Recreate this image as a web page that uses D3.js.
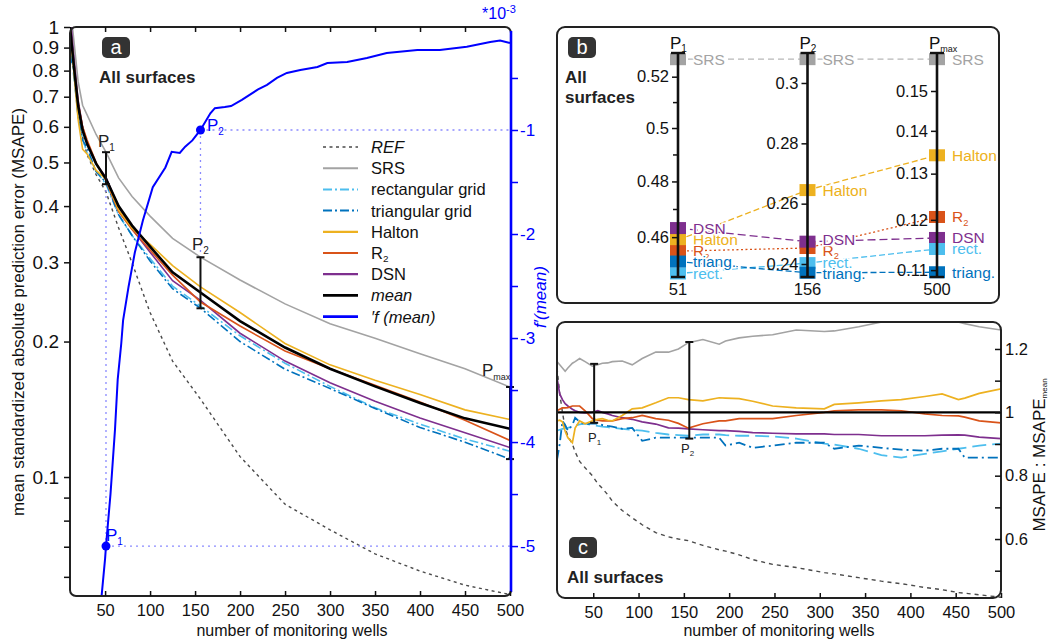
<!DOCTYPE html>
<html lang="en">
<head>
<meta charset="utf-8">
<title>MSAPE vs number of monitoring wells</title>
<script src="https://cdnjs.cloudflare.com/ajax/libs/d3/7.8.5/d3.min.js"></script>
<style>
  body { margin: 0; background: #fff; }
  svg text { font-family: "Liberation Sans", Arial, Helvetica, sans-serif; }
</style>
</head>
<body>
<svg id="chart" width="1050" height="642"></svg>
<script>
// ---- panel a : MSAPE (log axis) ----
const wells = [11, 15, 20, 25, 30, 40, 51, 65, 80, 100, 125, 156, 200, 250, 300, 350, 400, 450, 500];
const refA    = [1.0, 0.86, 0.66, 0.57, 0.52, 0.47, 0.43, 0.358, 0.299, 0.232, 0.181, 0.149, 0.111, 0.087, 0.0763, 0.0675, 0.0618, 0.0575, 0.0548];
const srsA    = [1.12, 0.946, 0.757, 0.67, 0.638, 0.577, 0.527, 0.462, 0.42, 0.38, 0.339, 0.308, 0.274, 0.2425, 0.219, 0.2035, 0.188, 0.174, 0.1585];
const rectA   = [0.942, 0.784, 0.6365, 0.565, 0.525, 0.4786, 0.4475, 0.382, 0.344, 0.306, 0.2656, 0.2397, 0.206, 0.179, 0.159, 0.1425, 0.131, 0.1215, 0.1141];
const triangA = [0.87, 0.805, 0.633, 0.56, 0.539, 0.477, 0.4515, 0.383, 0.344, 0.302, 0.262, 0.2372, 0.2, 0.1736, 0.1573, 0.142, 0.1288, 0.1195, 0.1096];
const haltonA = [0.97, 0.805, 0.623, 0.535, 0.5225, 0.48, 0.459, 0.392, 0.357, 0.329, 0.295, 0.2646, 0.232, 0.198, 0.1775, 0.164, 0.1525, 0.141, 0.1342];
const r2A     = [1.005, 0.838, 0.679, 0.6, 0.561, 0.4995, 0.455, 0.389, 0.355, 0.3195, 0.281, 0.2448, 0.2165, 0.1905, 0.174, 0.16, 0.1467, 0.1337, 0.1206];
const dsnA    = [1.08, 0.8715, 0.688, 0.6, 0.553, 0.497, 0.463, 0.398, 0.3555, 0.316, 0.273, 0.247, 0.2087, 0.181, 0.162, 0.1474, 0.1352, 0.1254, 0.1163];
const meanA   = [1.0, 0.83, 0.67, 0.59, 0.55, 0.497, 0.46, 0.40, 0.362, 0.325, 0.285, 0.257, 0.222, 0.194, 0.174, 0.159, 0.146, 0.135, 0.128];

// f'(mean), units of 1e-3
const derivX = [46, 50, 51, 56, 61, 64, 68, 70, 76, 83, 92, 103, 117, 124, 133, 139, 147, 156, 167, 172, 183, 190, 202, 220, 230, 241, 252, 267, 286, 297, 319, 341, 363, 397, 422, 452, 478, 489, 500];
const derivV = [-5.49, -5.12, -5.0, -4.5, -3.88, -3.4, -3.05, -2.83, -2.51, -2.18, -1.87, -1.55, -1.36, -1.21, -1.22, -1.16, -1.1, -1.0, -0.84, -0.79, -0.78, -0.77, -0.71, -0.61, -0.567, -0.5, -0.452, -0.423, -0.394, -0.356, -0.346, -0.308, -0.26, -0.23, -0.23, -0.2, -0.154, -0.14, -0.163];

const aTicksY = [0.1, 0.2, 0.3, 0.4, 0.5, 0.6, 0.7, 0.8, 0.9, 1];
const aMinorY = [0.06, 0.07, 0.08, 0.09];
const xTicks = [50, 100, 150, 200, 250, 300, 350, 400, 450, 500];
const dTicks = [-5, -4, -3, -2, -1];
const dMinor = [-4.5, -3.5, -2.5, -1.5, -0.5];

// ---- panel b : values at P1, P2, Pmax ----
const bCols = ["P1", "P2", "Pmax"];
const bWells = [51, 156, 500];
const bNames = ["SRS", "Halton", "R2", "DSN", "rect.", "triang."];
const bP1   = [0.527, 0.459, 0.4551, 0.4632, 0.4474, 0.4515];
const bP2   = [0.3079, 0.2645, 0.2453, 0.2474, 0.2403, 0.2371];
const bPmax = [0.1585, 0.1342, 0.1206, 0.1163, 0.1141, 0.1096];
const bTicks = [[0.46, 0.48, 0.5, 0.52], [0.24, 0.26, 0.28, 0.3], [0.11, 0.12, 0.13, 0.14, 0.15]];
const bMinor = [[0.47, 0.49, 0.51], [], []];

// ---- panel c : MSAPE / MSAPE_mean ----
const cx = [10, 13, 16, 19, 22, 27, 30, 35, 41, 49, 55, 60, 66, 71, 82, 93, 104, 119, 133, 144, 155, 171, 189, 196, 211, 226, 248, 274, 305, 316, 343, 368, 390, 416, 435, 453, 460, 476, 500];
const refC    = [1.14, 1.06, 1.0, 0.951, 0.925, 0.9, 0.875, 0.845, 0.825, 0.8, 0.775, 0.76, 0.74, 0.72, 0.69, 0.667, 0.645, 0.62, 0.607, 0.6, 0.595, 0.58, 0.566, 0.562, 0.55, 0.535, 0.52, 0.51, 0.494, 0.49, 0.478, 0.467, 0.459, 0.447, 0.44, 0.431, 0.429, 0.424, 0.416];
const srsC    = [1.16, 1.15, 1.14, 1.13, 1.14, 1.155, 1.16, 1.17, 1.16, 1.146, 1.15, 1.155, 1.156, 1.16, 1.162, 1.15, 1.17, 1.19, 1.19, 1.2, 1.22, 1.23, 1.215, 1.225, 1.235, 1.24, 1.245, 1.26, 1.255, 1.257, 1.27, 1.285, 1.29, 1.29, 1.29, 1.285, 1.28, 1.27, 1.26];
const haltonC = [0.973, 0.975, 0.97, 0.94, 0.92, 0.904, 0.95, 0.973, 0.964, 0.973, 0.978, 0.98, 0.975, 0.973, 0.99, 1.011, 1.014, 1.03, 1.046, 1.046, 1.04, 1.036, 1.046, 1.045, 1.043, 1.035, 1.02, 1.014, 1.011, 1.025, 1.03, 1.036, 1.04, 1.05, 1.058, 1.04, 1.045, 1.06, 1.074];
const r2C     = [1.005, 1.01, 1.014, 1.014, 1.015, 1.02, 1.02, 1.02, 1.005, 0.98, 0.975, 0.973, 0.973, 0.973, 0.98, 0.983, 0.99, 0.98, 0.975, 0.965, 0.95, 0.964, 0.973, 0.973, 0.98, 0.98, 0.98, 0.99, 1.0, 1.005, 1.008, 1.008, 1.005, 0.995, 0.99, 0.989, 0.985, 0.973, 0.967];
const dsnC    = [1.109, 1.058, 1.04, 1.027, 1.02, 1.01, 1.005, 1.0, 0.998, 1.0, 1.005, 1.0, 0.995, 0.99, 0.983, 0.978, 0.97, 0.963, 0.951, 0.95, 0.948, 0.945, 0.942, 0.942, 0.94, 0.936, 0.934, 0.932, 0.932, 0.93, 0.93, 0.926, 0.926, 0.926, 0.928, 0.929, 0.928, 0.922, 0.917];
const rectC   = [0.942, 0.945, 0.948, 0.95, 0.951, 0.955, 0.958, 0.962, 0.964, 0.96, 0.957, 0.955, 0.953, 0.951, 0.948, 0.945, 0.942, 0.935, 0.93, 0.928, 0.926, 0.93, 0.93, 0.928, 0.926, 0.926, 0.924, 0.917, 0.901, 0.898, 0.885, 0.865, 0.857, 0.869, 0.877, 0.885, 0.888, 0.895, 0.901];
const triangC = [0.85, 0.9, 0.973, 0.96, 0.942, 0.96, 0.983, 0.97, 0.962, 0.965, 0.964, 0.96, 0.957, 0.955, 0.948, 0.951, 0.91, 0.92, 0.92, 0.92, 0.92, 0.92, 0.92, 0.895, 0.904, 0.888, 0.895, 0.904, 0.904, 0.885, 0.895, 0.888, 0.882, 0.879, 0.885, 0.885, 0.857, 0.857, 0.857];
const barsC = [[51, 1.153, 0.967], [156, 1.222, 0.917]];
const cTicksY = [0.6, 0.8, 1, 1.2];
const cMinorY = [0.5, 0.7, 0.9, 1.1];

const col = {
  REF: "#4a4a4a", SRS: "#a3a3a3", rect: "#4dbeee", triang: "#0072bd",
  Halton: "#edb120", R2: "#d95319", DSN: "#7e2f8e", mean: "#000", deriv: "#0000ff"
};
const FONT = '"Liberation Sans", Arial, Helvetica, sans-serif';

const svg = d3.select("#chart");

function styleAxis(g, size, color) {
  g.select(".domain").remove();
  g.attr("font-family", FONT);
  g.selectAll(".tick line").attr("stroke", color).attr("stroke-width", 1.5);
  g.selectAll(".tick text").attr("fill", color).attr("font-size", size);
}

function subText(t, main, sub, subSize, dy) {
  t.append("tspan").text(main);
  t.append("tspan").attr("font-size", subSize).attr("dy", dy).text(sub);
  return t;
}

function nameText(t, name) {
  if (name === "R2") return subText(t, "R", "2", "60%", "0.35em");
  return t.text(name);
}

function badge(x, y, letter) {
  svg.append("rect").attr("x", x).attr("y", y).attr("width", 28).attr("height", 21)
    .attr("rx", 5).attr("fill", "#333");
  svg.append("text").attr("x", x + 14).attr("y", y + 17).attr("text-anchor", "middle")
    .attr("fill", "#fff").attr("font-size", 20).text(letter);
}

/* ================= panel a ================= */
const xA = d3.scaleLinear().domain([11, 500]).range([70, 510]);
const yA = d3.scaleLog().domain([0.0544, 1]).range([596, 27]);
const yD = d3.scaleLinear().domain([-5.48, -0.01]).range([596, 27]);

svg.append("clipPath").attr("id", "clipA").append("rect")
  .attr("x", 70).attr("y", 27).attr("width", 441).attr("height", 569);

const gA = svg.append("g");
const plotA = gA.append("g").attr("clip-path", "url(#clipA)");

const seriesA = [
  { name: "REF", v: refA, c: col.REF, w: 1.4, dash: "3,3.5" },
  { name: "SRS", v: srsA, c: col.SRS, w: 1.6 },
  { name: "rect", v: rectA, c: col.rect, w: 1.6, dash: "9,3,2,3" },
  { name: "triang", v: triangA, c: col.triang, w: 1.6, dash: "9,3,2,3" },
  { name: "DSN", v: dsnA, c: col.DSN, w: 1.6 },
  { name: "R2", v: r2A, c: col.R2, w: 1.6 },
  { name: "Halton", v: haltonA, c: col.Halton, w: 1.6 },
  { name: "mean", v: meanA, c: col.mean, w: 2.6 }
];
const lineA = d3.line().x((d, i) => xA(wells[i])).y(d => yA(d));
seriesA.forEach(s => {
  plotA.append("path").attr("d", lineA(s.v)).attr("fill", "none")
    .attr("stroke", s.c).attr("stroke-width", s.w)
    .attr("stroke-dasharray", s.dash || null);
});

// guides for P1 / P2 on f'(mean)
const guide = "#8a8aff";
const bVals = [bP1, bP2, bPmax];
[0, 1].forEach(k => {
  const n = bWells[k];
  const dv = derivV[derivX.indexOf(n)];
  const px = xA(n), py = yD(dv);
  const ySpan = k === 0 ? yA(d3.min(bVals[k])) + 3 : yA(d3.max(bVals[k]));
  plotA.append("line").attr("x1", px).attr("x2", px).attr("y1", py).attr("y2", ySpan)
    .attr("stroke", guide).attr("stroke-width", 1.3).attr("stroke-dasharray", "2,4");
  plotA.append("line").attr("x1", px).attr("x2", 511).attr("y1", py).attr("y2", py)
    .attr("stroke", guide).attr("stroke-width", 1.3).attr("stroke-dasharray", "2,4");
});

// P bars across methods
bWells.forEach((n, k) => {
  const px = xA(n), y1 = yA(d3.max(bVals[k])), y2 = yA(d3.min(bVals[k]));
  gA.append("line").attr("x1", px).attr("x2", px).attr("y1", y1).attr("y2", y2)
    .attr("stroke", "#111").attr("stroke-width", 2);
  [y1, y2].forEach(yy => gA.append("line").attr("x1", px - 4).attr("x2", px + 4)
    .attr("y1", yy).attr("y2", yy).attr("stroke", "#111").attr("stroke-width", 2));
});

// f'(mean)
const lineD = d3.line().x((d, i) => xA(derivX[i])).y(d => yD(d));
plotA.append("path").attr("d", lineD(derivV)).attr("fill", "none")
  .attr("stroke", col.deriv).attr("stroke-width", 2);
[0, 1].forEach(k => {
  const n = bWells[k];
  plotA.append("circle").attr("cx", xA(n)).attr("cy", yD(derivV[derivX.indexOf(n)]))
    .attr("r", 4.5).attr("fill", col.deriv);
});

// labels on the curves
subText(gA.append("text").attr("x", 98).attr("y", 147).attr("font-size", 17).attr("fill", "#222"), "P", "1", 10, "0.35em");
subText(gA.append("text").attr("x", 192).attr("y", 250).attr("font-size", 17).attr("fill", "#222"), "P", "2", 10, "0.35em");
subText(gA.append("text").attr("x", 482).attr("y", 376).attr("font-size", 17).attr("fill", "#222"), "P", "max", 9, "0.4em");
subText(gA.append("text").attr("x", 106).attr("y", 541).attr("font-size", 17).attr("fill", col.deriv), "P", "1", 10, "0.35em");
subText(gA.append("text").attr("x", 207).attr("y", 131).attr("font-size", 17).attr("fill", col.deriv), "P", "2", 10, "0.35em");

// frame
gA.append("rect").attr("x", 70).attr("y", 27).attr("width", 441).attr("height", 569)
  .attr("rx", 6).attr("fill", "none").attr("stroke", "#222").attr("stroke-width", 2);
gA.append("line").attr("x1", 511).attr("x2", 511).attr("y1", 31).attr("y2", 592)
  .attr("stroke", col.deriv).attr("stroke-width", 2.6);

// axes
gA.append("g").attr("transform", "translate(70,0)")
  .call(d3.axisLeft(yA).tickValues(aTicksY).tickFormat(d => String(d)).tickSize(6).tickPadding(5))
  .call(g => styleAxis(g, 19, "#111"));
gA.append("g").attr("transform", "translate(70,0)")
  .call(d3.axisLeft(yA).tickValues(aMinorY).tickFormat("").tickSize(6))
  .call(g => styleAxis(g, 19, "#111"));
gA.append("g").attr("transform", "translate(0,596)")
  .call(d3.axisBottom(xA).tickValues(xTicks).tickSize(-5).tickPadding(8))
  .call(g => styleAxis(g, 16.5, "#111"));
gA.append("g").attr("transform", "translate(0,27)")
  .call(d3.axisTop(xA).tickValues(xTicks.slice(0, -1)).tickFormat("").tickSize(-5))
  .call(g => styleAxis(g, 16, "#111"));
gA.append("g").attr("transform", "translate(511,0)")
  .call(d3.axisRight(yD).tickValues(dTicks).tickFormat(d => String(d)).tickSize(7).tickPadding(2))
  .call(g => styleAxis(g, 17, col.deriv));
gA.append("g").attr("transform", "translate(511,0)")
  .call(d3.axisRight(yD).tickValues(dMinor).tickFormat("").tickSize(7))
  .call(g => styleAxis(g, 17, col.deriv));

const t10 = gA.append("text").attr("x", 482).attr("y", 19).attr("font-size", 16).attr("fill", col.deriv);
t10.append("tspan").text("*10");
t10.append("tspan").attr("dy", -6).attr("font-size", 11).text("-3");

gA.append("text").attr("transform", "translate(546,297) rotate(-90)").attr("text-anchor", "middle")
  .attr("font-size", 17).attr("font-style", "italic").attr("fill", col.deriv).text("f\u2032(mean)");
gA.append("text").attr("transform", "translate(24,312) rotate(-90)").attr("text-anchor", "middle")
  .attr("font-size", 17).attr("fill", "#111").text("mean standardized absolute prediction error (MSAPE)");
gA.append("text").attr("x", 292).attr("y", 636).attr("text-anchor", "middle")
  .attr("font-size", 16).attr("fill", "#111").text("number of monitoring wells");

badge(102, 37, "a");
gA.append("text").attr("x", 99).attr("y", 83).attr("font-size", 17).attr("font-weight", "bold")
  .attr("fill", "#222").text("All surfaces");

// legend
const legendItems = [
  { name: "REF", c: col.REF, w: 1.4, dash: "3,3.5", italic: true },
  { name: "SRS", c: col.SRS, w: 2 },
  { name: "rectangular grid", c: col.rect, w: 2, dash: "9,3,2,3" },
  { name: "triangular grid", c: col.triang, w: 2, dash: "9,3,2,3" },
  { name: "Halton", c: col.Halton, w: 2.2 },
  { name: "R2", c: col.R2, w: 2.2 },
  { name: "DSN", c: col.DSN, w: 2.2 },
  { name: "mean", c: col.mean, w: 2.8, italic: true },
  { name: "\u2032f (mean)", c: col.deriv, w: 2.8, italic: true }
];
const gLeg = gA.append("g");
legendItems.forEach((d, i) => {
  const y = 147 + i * 21.2;
  gLeg.append("line").attr("x1", 323).attr("x2", 358).attr("y1", y).attr("y2", y)
    .attr("stroke", d.c).attr("stroke-width", d.w).attr("stroke-dasharray", d.dash || null);
  nameText(gLeg.append("text").attr("x", 371).attr("y", y + 6).attr("font-size", 16.5)
    .attr("fill", "#111").attr("font-style", d.italic ? "italic" : null), d.name);
});

/* ================= panel b ================= */
const gB = svg.append("g");
gB.append("rect").attr("x", 557).attr("y", 27).attr("width", 442).attr("height", 276)
  .attr("rx", 8).attr("fill", "none").attr("stroke", "#222").attr("stroke-width", 2);

const xB = d3.scalePoint().domain(bCols).range([678, 937]);
const bScales = [
  d3.scaleLog().domain([0.4462, 0.5295]).range([277, 53]),
  d3.scaleLinear().domain([0.23569, 0.30994]).range([277, 53]),
  d3.scaleLog().domain([0.1087, 0.1602]).range([277, 53])
];
const bStyle = {
  "SRS":     { c: "#a3a3a3", lc: "#b8b8b8", dash: "6,4" },
  "Halton":  { c: col.Halton, lc: col.Halton, dash: "6,3" },
  "R2":      { c: col.R2, lc: col.R2, dash: "2,2.5" },
  "DSN":     { c: col.DSN, lc: col.DSN, dash: "8,4" },
  "rect.":   { c: col.rect, lc: col.rect, dash: "6,3" },
  "triang.": { c: col.triang, lc: col.triang, dash: "6,3" }
};

// connecting dashed lines
bNames.forEach((name, j) => {
  for (let k = 0; k < 2; k++) {
    gB.append("line")
      .attr("x1", xB(bCols[k])).attr("y1", bScales[k](bVals[k][j]))
      .attr("x2", xB(bCols[k + 1])).attr("y2", bScales[k + 1](bVals[k + 1][j]))
      .attr("stroke", bStyle[name].lc).attr("stroke-width", 1.3)
      .attr("stroke-dasharray", bStyle[name].dash);
  }
});

function spread(ys, gap) {
  const idx = ys.map((y, i) => i).sort((a, b) => ys[a] - ys[b]);
  const out = ys.slice();
  for (let it = 0; it < 30; it++) {
    for (let j = 1; j < idx.length; j++) {
      const a = idx[j - 1], b = idx[j], d = out[b] - out[a];
      if (d < gap) { const s = (gap - d) / 2; out[a] -= s; out[b] += s; }
    }
  }
  return out;
}

bCols.forEach((c, k) => {
  const x = xB(c), sc = bScales[k];
  const g = gB.append("g");
  // squares
  const ys = bNames.map((n, j) => sc(bVals[k][j]));
  bNames.forEach((n, j) => {
    g.append("rect").attr("x", x - 8).attr("y", ys[j] - 6).attr("width", 16).attr("height", 12)
      .attr("fill", bStyle[n].c);
  });
  // axis
  g.append("g").attr("transform", `translate(${x},0)`)
    .call(d3.axisLeft(sc).tickValues(bTicks[k]).tickFormat(d => String(d)).tickSize(6).tickPadding(3))
    .call(a => styleAxis(a, 16.5, "#111"));
  if (bMinor[k].length) {
    g.append("g").attr("transform", `translate(${x},0)`)
      .call(d3.axisLeft(sc).tickValues(bMinor[k]).tickFormat("").tickSize(5))
      .call(a => styleAxis(a, 16, "#111"));
  }
  g.append("line").attr("x1", x).attr("x2", x).attr("y1", 53).attr("y2", 277)
    .attr("stroke", "#111").attr("stroke-width", 2.6);
  [53, 277].forEach(yy => g.append("line").attr("x1", x - 7).attr("x2", x + 7)
    .attr("y1", yy).attr("y2", yy).attr("stroke", "#111").attr("stroke-width", 2.4));
  // labels
  const ly = spread(ys, 11);
  bNames.forEach((n, j) => {
    nameText(g.append("text").attr("x", x + 15).attr("y", ly[j] + 5.5).attr("font-size", 15.5)
      .attr("fill", bStyle[n].c).attr("stroke", "#fff").attr("stroke-width", 3)
      .attr("paint-order", "stroke"), n);
  });
  // headers
  const sub = c.slice(1);
  subText(g.append("text").attr("x", x - 8).attr("y", 49).attr("font-size", 17).attr("fill", "#111"),
    "P", sub, sub.length > 1 ? 9 : 10, "0.3em");
  g.append("text").attr("x", x).attr("y", 295).attr("text-anchor", "middle")
    .attr("font-size", 16.5).attr("fill", "#111").text(bWells[k]);
});

badge(568, 37, "b");
gB.append("text").attr("x", 565).attr("y", 83).attr("font-size", 17).attr("font-weight", "bold")
  .attr("fill", "#222").text("All");
gB.append("text").attr("x", 565).attr("y", 103).attr("font-size", 17).attr("font-weight", "bold")
  .attr("fill", "#222").text("surfaces");

/* ================= panel c ================= */
const xC = d3.scaleLinear().domain([10, 500]).range([557, 1001]);
const yC = d3.scaleLinear().domain([0.417, 1.282]).range([597, 323]);
const gC = svg.append("g");
svg.append("clipPath").attr("id", "clipC").append("rect")
  .attr("x", 557).attr("y", 323).attr("width", 444).attr("height", 275);
const plotC = gC.append("g").attr("clip-path", "url(#clipC)");

const seriesC = [
  { v: refC, c: col.REF, w: 1.4, dash: "4,4" },
  { v: srsC, c: col.SRS, w: 1.6 },
  { v: rectC, c: col.rect, w: 1.8, dash: "14,6" },
  { v: triangC, c: col.triang, w: 1.8, dash: "10,4,2,4" },
  { v: dsnC, c: col.DSN, w: 1.7 },
  { v: r2C, c: col.R2, w: 1.7 },
  { v: haltonC, c: col.Halton, w: 1.7 }
];
const lineC = d3.line().x((d, i) => xC(cx[i])).y(d => yC(d));
seriesC.forEach(s => {
  plotC.append("path").attr("d", lineC(s.v)).attr("fill", "none")
    .attr("stroke", s.c).attr("stroke-width", s.w).attr("stroke-dasharray", s.dash || null);
});
plotC.append("line").attr("x1", 557).attr("x2", 1001).attr("y1", yC(1)).attr("y2", yC(1))
  .attr("stroke", "#000").attr("stroke-width", 2.2);

barsC.forEach(b => {
  const px = xC(b[0]);
  gC.append("line").attr("x1", px).attr("x2", px).attr("y1", yC(b[1])).attr("y2", yC(b[2]))
    .attr("stroke", "#111").attr("stroke-width", 2);
  [b[1], b[2]].forEach(v => gC.append("line").attr("x1", px - 4).attr("x2", px + 4)
    .attr("y1", yC(v)).attr("y2", yC(v)).attr("stroke", "#111").attr("stroke-width", 2));
});
subText(gC.append("text").attr("x", 588).attr("y", 442).attr("font-size", 13).attr("fill", "#222"), "P", "1", 8, "0.35em");
subText(gC.append("text").attr("x", 681).attr("y", 453).attr("font-size", 13).attr("fill", "#222"), "P", "2", 8, "0.35em");

gC.append("rect").attr("x", 557).attr("y", 322).attr("width", 444).attr("height", 276)
  .attr("rx", 8).attr("fill", "none").attr("stroke", "#222").attr("stroke-width", 2);

gC.append("g").attr("transform", "translate(1001,0)")
  .call(d3.axisRight(yC).tickValues(cTicksY).tickFormat(d => String(d)).tickSize(-6).tickPadding(4))
  .call(g => styleAxis(g, 16.5, "#111"));
gC.append("g").attr("transform", "translate(1001,0)")
  .call(d3.axisRight(yC).tickValues(cMinorY).tickFormat("").tickSize(-6))
  .call(g => styleAxis(g, 16, "#111"));
gC.append("g").attr("transform", "translate(0,598)")
  .call(d3.axisBottom(xC).tickValues(xTicks).tickSize(-5).tickPadding(8))
  .call(g => styleAxis(g, 16.5, "#111"));

gC.append("text").attr("x", 779).attr("y", 636).attr("text-anchor", "middle")
  .attr("font-size", 16).attr("fill", "#111").text("number of monitoring wells");
subText(gC.append("text").attr("transform", "translate(1045,455) rotate(-90)").attr("text-anchor", "middle")
  .attr("font-size", 17).attr("fill", "#111"), "MSAPE : MSAPE", "mean", 8, "0.3em");

badge(569, 537, "c");
gC.append("text").attr("x", 567).attr("y", 583).attr("font-size", 17).attr("font-weight", "bold")
  .attr("fill", "#222").text("All surfaces");
</script>
</body>
</html>
